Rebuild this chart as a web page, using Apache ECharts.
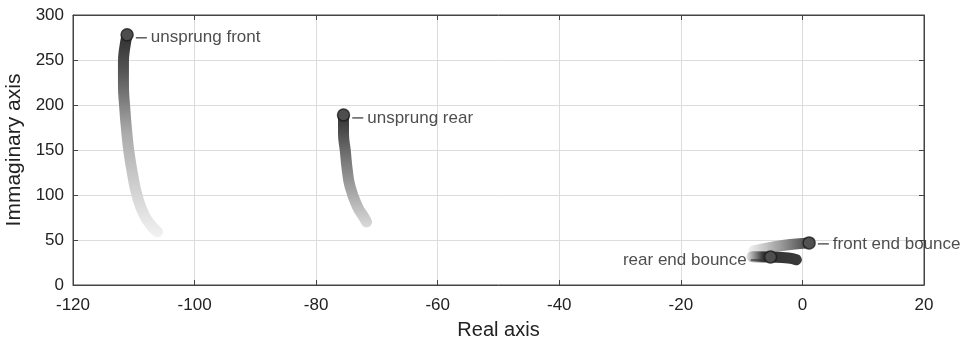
<!DOCTYPE html>
<html>
<head>
<meta charset="utf-8">
<script src="https://cdn.jsdelivr.net/npm/echarts@6/dist/echarts.min.js"></script>
<style>
  html, body { margin: 0; padding: 0; background: #fff; }
  #main { width: 970px; height: 345px; }
</style>
</head>
<body>
<div id="main"></div>
<script>
// root locus branches (real, imag)
var frontReal = [-111.1, -111.5, -111.7, -111.7, -111.5, -111.2, -110.8, -110.2, -109.4, -108.3, -107.0, -106.1];
var frontImag = [278, 263, 248, 223, 198, 173, 148, 123, 98, 78, 65, 59];
var rearReal = [-75.5, -75.5, -75.2, -74.9, -74.4, -73.2, -72.2, -71.7];
var rearImag = [189, 169, 149, 129, 109, 87, 76, 70];
var frontBounceReal = [-8.0, -5.0, -2.0, 1.1];
var frontBounceImag = [38, 42, 45, 46.8];
var rearBounceReal = [-8.3, -5.25, -2.3, -1.0];
var rearBounceImag = [31.5, 31.1, 30, 28];

var xTicks = { min: -120, max: 20, interval: 20 };
var yTicks = { min: 0, max: 300, interval: 50 };

var endNames = ['unsprung front', 'unsprung rear', 'front end bounce', 'rear end bounce'];
var endPoints = [
  [frontReal[0], frontImag[0]],
  [rearReal[0], rearImag[0]],
  [frontBounceReal[3], frontBounceImag[3]],
  [rearBounceReal[1], rearBounceImag[1]]
];

function pairs(xs, ys) {
  var out = [];
  for (var i = 0; i < xs.length; i++) out.push([xs[i], ys[i]]);
  return out;
}

function grad(x, y, x2, y2, stops) {
  return new echarts.graphic.LinearGradient(x, y, x2, y2, stops);
}

var myChart = echarts.init(document.getElementById('main'));

var font = 'Liberation Sans, Arial, sans-serif';
var axisColor = '#444';
var textColor = '#222';

function trail(data, color) {
  return {
    type: 'line',
    data: data,
    smooth: true,
    showSymbol: false,
    silent: true,
    lineStyle: { width: 11, cap: 'round', join: 'round', color: color }
  };
}

var rich = {
  l: { width: 11, height: 1.5, backgroundColor: '#333' },
  t: { fontSize: 17, color: textColor, fontFamily: font, padding: [0, 0, 0, 4] },
  tl: { fontSize: 17, color: textColor, fontFamily: font, padding: [0, 4, 0, 0] }
};

var labelData = endNames.map(function (n, i) {
  var left = i === 3;
  return {
    value: endPoints[i],
    label: {
      show: true,
      position: left ? 'left' : 'right',
      distance: 2,
      offset: [0, i === 2 ? 1 : 3],
      formatter: left ? '{tl|' + n + '}{l|}' : '{l|}{t|' + n + '}',
      rich: rich
    }
  };
});

function mirrorAxis(pos, r) {
  return {
    type: 'value', position: pos, min: r.min, max: r.max, interval: r.interval,
    axisLine: { show: true, onZero: false, lineStyle: { color: axisColor } },
    axisTick: { show: true, inside: true, length: 5, lineStyle: { color: axisColor } },
    axisLabel: { show: false },
    splitLine: { show: false }
  };
}

var option = {
  animation: false,
  grid: {
    left: 73, right: 46, top: 15, bottom: 60,
    outerBoundsMode: 'none', containLabel: false,
    show: true, borderColor: axisColor, borderWidth: 1
  },
  xAxis: [
    {
      type: 'value', min: xTicks.min, max: xTicks.max, interval: xTicks.interval,
      name: 'Real axis', nameLocation: 'middle', nameGap: 35,
      nameTextStyle: { fontSize: 20, color: textColor, fontFamily: font },
      axisLine: { show: true, onZero: false, lineStyle: { color: axisColor } },
      axisTick: { show: true, inside: true, length: 5, lineStyle: { color: axisColor } },
      axisLabel: { fontSize: 17, color: textColor, fontFamily: font, margin: 12 },
      splitLine: { show: true, lineStyle: { color: '#dcdcdc' } }
    },
    mirrorAxis('top', xTicks)
  ],
  yAxis: [
    {
      type: 'value', min: yTicks.min, max: yTicks.max, interval: yTicks.interval,
      name: 'Immaginary axis', nameLocation: 'middle', nameGap: 42,
      nameTextStyle: { fontSize: 21, color: textColor, fontFamily: font },
      axisLine: { show: true, onZero: false, lineStyle: { color: axisColor } },
      axisTick: { show: true, inside: true, length: 5, lineStyle: { color: axisColor } },
      axisLabel: { fontSize: 17, color: textColor, fontFamily: font, margin: 9 },
      splitLine: { show: true, lineStyle: { color: '#dcdcdc' } }
    },
    mirrorAxis('right', yTicks)
  ],
  series: [
    trail(pairs(frontReal, frontImag), grad(0, 0, 0, 1, [
      { offset: 0, color: '#2a2a2a' }, { offset: 0.2, color: '#555' },
      { offset: 0.5, color: '#ababab' }, { offset: 1, color: '#f2f2f2' }])),
    trail(pairs(rearReal, rearImag), grad(0, 0, 0, 1, [
      { offset: 0, color: '#2a2a2a' }, { offset: 0.35, color: '#6a6a6a' },
      { offset: 1, color: '#dadada' }])),
    trail(pairs(frontBounceReal, frontBounceImag), grad(0, 0, 1, 0, [
      { offset: 0, color: '#f2f2f2' }, { offset: 0.5, color: '#999' },
      { offset: 1, color: '#333' }])),
    trail(pairs(rearBounceReal, rearBounceImag), grad(0, 0, 1, 0, [
      { offset: 0, color: '#e6e6e6' }, { offset: 0.3, color: '#333' },
      { offset: 1, color: '#3a3a3a' }])),
    {
      type: 'scatter',
      data: labelData,
      symbolSize: 12,
      silent: true,
      itemStyle: { color: '#555', borderColor: '#1a1a1a', borderWidth: 1.5 },
      z: 5
    }
  ]
};

myChart.setOption(option);
</script>
</body>
</html>
